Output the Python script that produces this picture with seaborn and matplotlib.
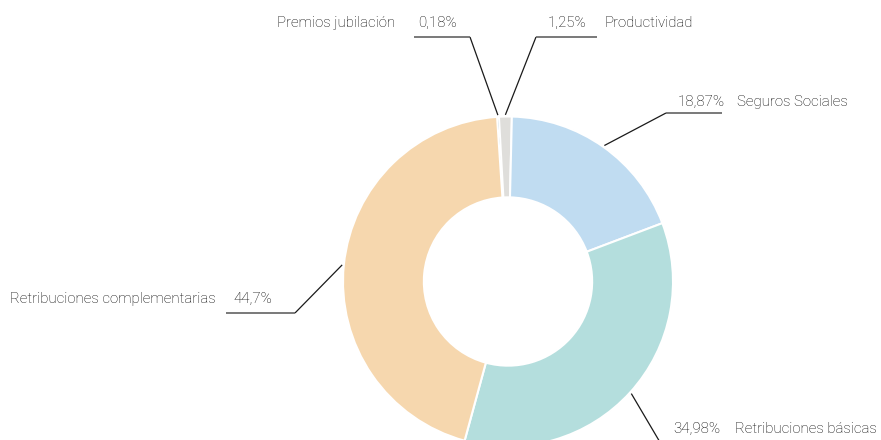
import numpy as np
import matplotlib
matplotlib.use("Agg")
import matplotlib.pyplot as plt
import seaborn as sns

# data, clockwise from the top
categories = ["Premios jubilación", "Productividad", "Seguros Sociales",
              "Retribuciones básicas", "Retribuciones complementarias"]
shares = [0.18, 1.25, 18.87, 34.98, 44.7]
pct_labels = ["0,18%", "1,25%", "18,87%", "34,98%", "44,7%"]
colors = ["#4a86b0", "#dfdedb", "#c0dcf1", "#b4dedd", "#f6d7ae"]

sns.set_theme(style="white")
plt.rcParams["font.family"] = ["Roboto", "DejaVu Sans"]

# pixel layout helpers: donut centre at (508, 281.5), outer radius 165 px
CX, CY, R = 508, 281.5, 165.0


def px(x, y):
    return (x - CX) / R, (CY - y) / R


fig = plt.figure(figsize=(8.81, 4.40), dpi=100)
ax = fig.add_axes([0, 0, 1, 1])

start = 93.8
wedges, _ = ax.pie(shares, colors=colors, startangle=start, counterclock=False,
                   radius=1.0,
                   wedgeprops=dict(width=0.49, edgecolor="white", linewidth=1.5))
wedges[0].set_linewidth(0.2)

# label layout: (elbow, end of underline, pct text x/align, name text x/align, text y)
layout = [
    dict(elbow=(470, 37), end=(414, 37), pct=(418, "left"), name=(395, "right"), ty=23),
    dict(elbow=(536, 37), end=(597, 37), pct=(586, "right"), name=(605, "left"), ty=23),
    dict(elbow=(666, 113), end=(722, 113), pct=(725, "right"), name=(737, "left"), ty=102),
    dict(elbow=(664, 449), end=(725, 449), pct=(673, "left"), name=(735, "left"), ty=429),
    dict(elbow=(295, 313), end=(226, 313), pct=(233, "left"), name=(216, "right"), ty=299),
]

for w, lay, cat, pl in zip(wedges, layout, categories, pct_labels):
    mid = np.deg2rad((w.theta1 + w.theta2) / 2)
    ax0, ay0 = 1.01 * np.cos(mid), 1.01 * np.sin(mid)
    ex, ey = px(*lay["elbow"])
    hx, hy = px(*lay["end"])
    ax.plot([ax0, ex], [ay0, ey], color="#1a1a1a", lw=0.9, solid_capstyle="butt")
    ax.plot([ex, hx], [ey, hy], color="#555555", lw=1.1, solid_capstyle="butt")
    tx, ha = lay["pct"]
    ax.text(px(tx, 0)[0], px(0, lay["ty"])[1], pl, ha=ha, va="center",
            fontsize=10.8, color="#000000", fontweight="light")
    tx, ha = lay["name"]
    ax.text(px(tx, 0)[0], px(0, lay["ty"])[1], cat, ha=ha, va="center",
            fontsize=10.8, color="#000000", fontweight="light")

ax.set_aspect("auto")
ax.set_xlim(px(0, 0)[0], px(881, 0)[0])
ax.set_ylim(px(0, 440)[1], px(0, 0)[1])
ax.axis("off")

fig.savefig("out.png", dpi=100, facecolor="white")
